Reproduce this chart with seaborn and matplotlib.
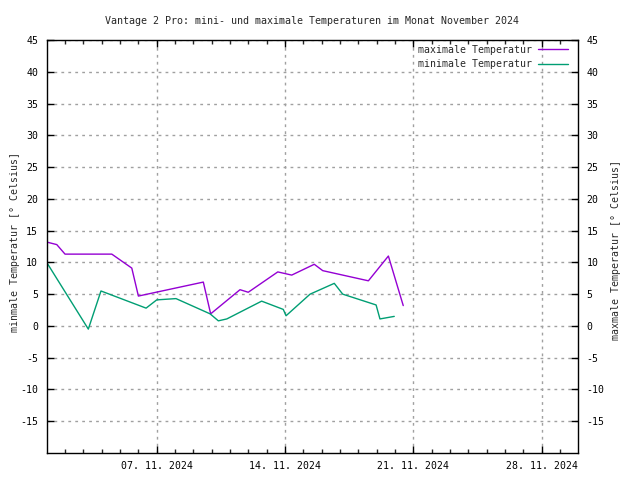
import matplotlib
matplotlib.use("Agg")
import matplotlib.pyplot as plt
import seaborn as sns
import pandas as pd

# Day of November 2024 (fractional) and temperatures in °C
max_days = [1.01, 1.56, 2.01, 4.56, 5.65, 6.01, 9.55, 9.95, 11.55, 12.00,
            13.61, 14.37, 15.60, 16.06, 18.55, 19.64, 20.45]
max_temp = [13.2, 12.8, 11.3, 11.3, 9.1, 4.7, 6.9, 1.9, 5.7, 5.3,
            8.5, 8.0, 9.7, 8.7, 7.1, 11.0, 3.2]

min_days = [1.01, 3.28, 3.97, 6.43, 7.01, 8.06, 9.92, 10.37, 10.83, 12.73,
            13.91, 14.06, 15.37, 16.69, 17.15, 18.97, 19.18, 19.96]
min_temp = [10.0, -0.5, 5.5, 2.8, 4.1, 4.3, 1.9, 0.8, 1.1, 3.9,
            2.6, 1.6, 5.0, 6.7, 5.0, 3.3, 1.1, 1.5]

x_ticks = [7, 14, 21, 28]
x_tick_labels = ["07. 11. 2024", "14. 11. 2024", "21. 11. 2024", "28. 11. 2024"]
y_ticks = list(range(-15, 50, 5))

title = "Vantage 2 Pro: mini- und maximale Temperaturen im Monat November 2024"
max_label = "maximale Temperatur"
min_label = "minimale Temperatur"

sns.set_style("white")
plt.rcParams['font.family'] = ['DejaVu Sans Mono', 'DejaVu Sans']
FS = 7.1

df_max = pd.DataFrame({"day": max_days, "temp": max_temp})
df_min = pd.DataFrame({"day": min_days, "temp": min_temp})

fig = plt.figure(figsize=(6.4, 4.8), dpi=100)
ax = fig.add_axes([46.5 / 640, 1 - 453 / 480, (578.4 - 46.5) / 640, (453 - 40) / 480])

sns.lineplot(data=df_max, x="day", y="temp", ax=ax, color="#9400d3", lw=1,
             label=max_label, sort=False, estimator=None)
sns.lineplot(data=df_min, x="day", y="temp", ax=ax, color="#009e73", lw=1,
             label=min_label, sort=False, estimator=None)

ax.set_xlim(1, 30)
ax.set_ylim(-20, 45)
ax.set_xticks(x_ticks)
ax.set_xticklabels(x_tick_labels, fontsize=FS)
ax.set_xticks(list(range(2, 30)), minor=True)
ax.set_yticks(y_ticks)
ax.set_yticklabels([str(v) for v in y_ticks], fontsize=FS)
ax.yaxis.set_ticks_position("both")
ax.xaxis.set_ticks_position("both")
ax.tick_params(axis="both", which="major", direction="in", length=5, width=1,
               pad=6, colors="black")
ax.tick_params(axis="y", which="major", labelleft=True, labelright=True)
ax.tick_params(axis="x", which="minor", direction="in", length=3, width=1)
ax.set_xlabel("")
ax.set_ylabel("minmale Temperatur [° Celsius]", fontsize=FS)
ax.yaxis.set_label_coords(-0.05, 0.51)

fig.text(616 / 640, 1 - 250 / 480, "maxmale Temperatur [° Celsius]", fontsize=FS,
         rotation=90, ha="center", va="center")

ax.grid(True, which="major", color="#a0a0a0", linestyle=(0, (2, 3)), lw=1)
for s in ax.spines.values():
    s.set_color("black")
    s.set_linewidth(1)

ax.set_title(title, fontsize=7.2, pad=11.5)

leg = ax.legend(loc="upper right", frameon=False, markerfirst=False, fontsize=FS,
                handlelength=3.0, borderaxespad=0.0, labelspacing=0.45, handletextpad=0.6,
                bbox_to_anchor=(0.987, 0.998))

fig.savefig("out.png", dpi=100)
